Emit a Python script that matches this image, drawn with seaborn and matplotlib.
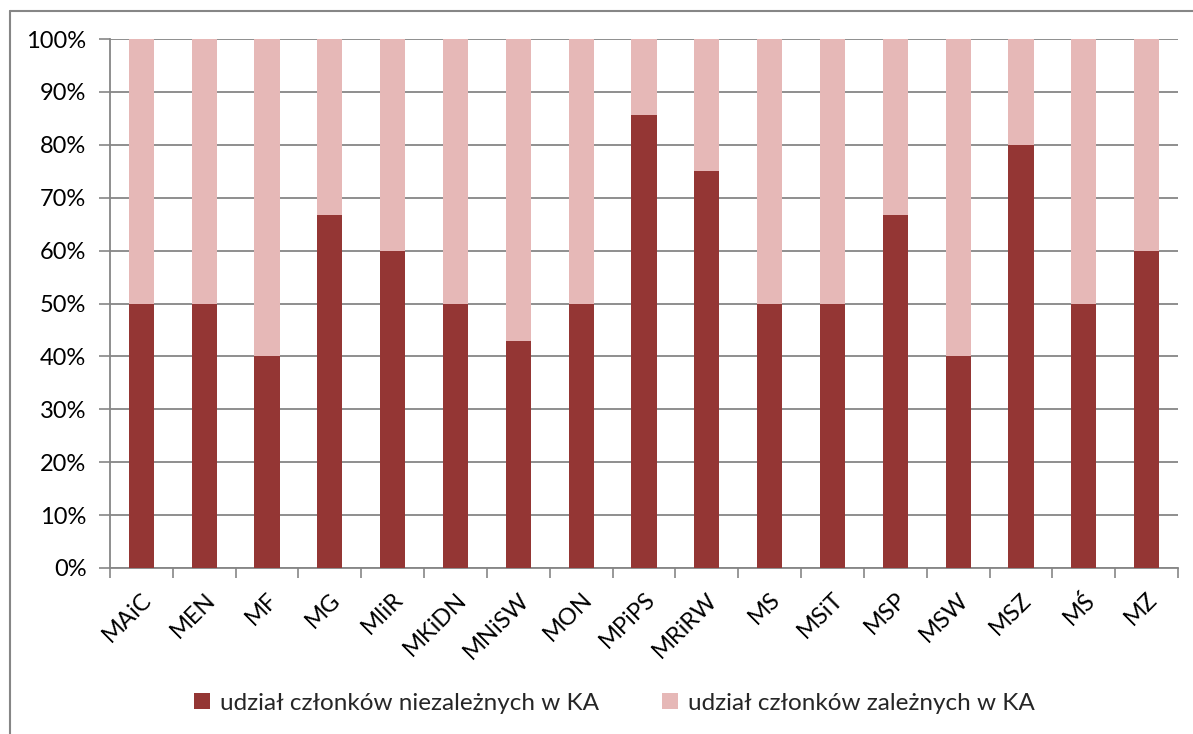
import matplotlib
matplotlib.use("Agg")
import matplotlib.pyplot as plt
from matplotlib.lines import Line2D
from matplotlib.patches import Patch
from matplotlib.ticker import FixedLocator, PercentFormatter
import seaborn as sns
import pandas as pd
import numpy as np

ministries = ["MAiC", "MEN", "MF", "MG", "MIiR", "MKiDN", "MNiSW", "MON", "MPiPS",
              "MRiRW", "MS", "MSiT", "MSP", "MSW", "MSZ", "MŚ", "MZ"]
independent = [50.0, 50.0, 40.0, 66.7, 60.0, 50.0, 42.9, 50.0, 85.7,
               75.0, 50.0, 50.0, 66.7, 40.0, 80.0, 50.0, 60.0]
dependent = [50.0, 50.0, 60.0, 33.3, 40.0, 50.0, 57.1, 50.0, 14.3,
             25.0, 50.0, 50.0, 33.3, 60.0, 20.0, 50.0, 40.0]
series_labels = ["udział członków niezależnych w KA", "udział członków zależnych w KA"]

DARK = "#943634"
LIGHT = "#E6B8B7"
GRID = "#868686"

sns.set_theme(style="white")
plt.rcParams["font.family"] = ["Lato", "DejaVu Sans"]

df = pd.DataFrame({"ministry": ministries,
                   "independent": independent,
                   "dependent": dependent})
df["total"] = df["independent"] + df["dependent"]

fig = plt.figure(figsize=(11.93, 7.34), dpi=100)
ax = fig.add_axes([110 / 1193, (734 - 568) / 734, (1178 - 110) / 1193, (568 - 39) / 734])

# stacked columns: full height in the light tone, independent share on top in dark
sns.barplot(data=df, x="ministry", y="total", color=LIGHT, width=0.4,
            saturation=1, ax=ax, zorder=3, linewidth=0)
sns.barplot(data=df, x="ministry", y="independent", color=DARK, width=0.4,
            saturation=1, ax=ax, zorder=4, linewidth=0)

n = len(ministries)
ax.set_xlim(-0.5, n - 0.5)
ax.set_ylim(0, 100)
ax.set_xlabel("")
ax.set_ylabel("")

ax.yaxis.set_major_locator(FixedLocator(np.arange(0, 101, 10)))
ax.yaxis.set_major_formatter(PercentFormatter(decimals=0))
ax.grid(axis="y", color=GRID, linewidth=1.3, zorder=0)
ax.set_axisbelow(True)

for side in ["top", "right"]:
    ax.spines[side].set_visible(False)
for side in ["left", "bottom"]:
    ax.spines[side].set_color(GRID)
    ax.spines[side].set_linewidth(1.3)

# category labels at centres, boundary ticks below the axis
ax.set_xticks(np.arange(n))
ax.set_xticklabels(ministries, rotation=45, ha="right", rotation_mode="anchor",
                   fontsize=17, color="black")
ax.tick_params(axis="x", which="major", bottom=False, length=0, pad=15)
ax.set_xticks(np.arange(-0.5, n, 1.0), minor=True)
ax.tick_params(axis="x", which="minor", bottom=True, length=7, width=1.2,
               color=GRID, direction="out")
ax.tick_params(axis="y", left=True, length=8, width=1.2, color=GRID, direction="out",
               labelsize=17, labelcolor="black", pad=9)

handles = [Patch(facecolor=DARK, edgecolor="none"), Patch(facecolor=LIGHT, edgecolor="none")]
fig.legend(handles, series_labels, loc="center", bbox_to_anchor=(0.515, 0.042),
           ncol=2, frameon=False, fontsize=17.5, handlelength=0.65, handleheight=0.65,
           handletextpad=0.4, columnspacing=2.6)

# chart area border
fig.add_artist(Line2D([10 / 1193, 10 / 1193], [0, 1 - 11 / 734], color=GRID,
                      linewidth=1.5, transform=fig.transFigure))
fig.add_artist(Line2D([10 / 1193, 1], [1 - 11 / 734, 1 - 11 / 734], color=GRID,
                      linewidth=1.5, transform=fig.transFigure))

fig.savefig("out.png", dpi=100)
